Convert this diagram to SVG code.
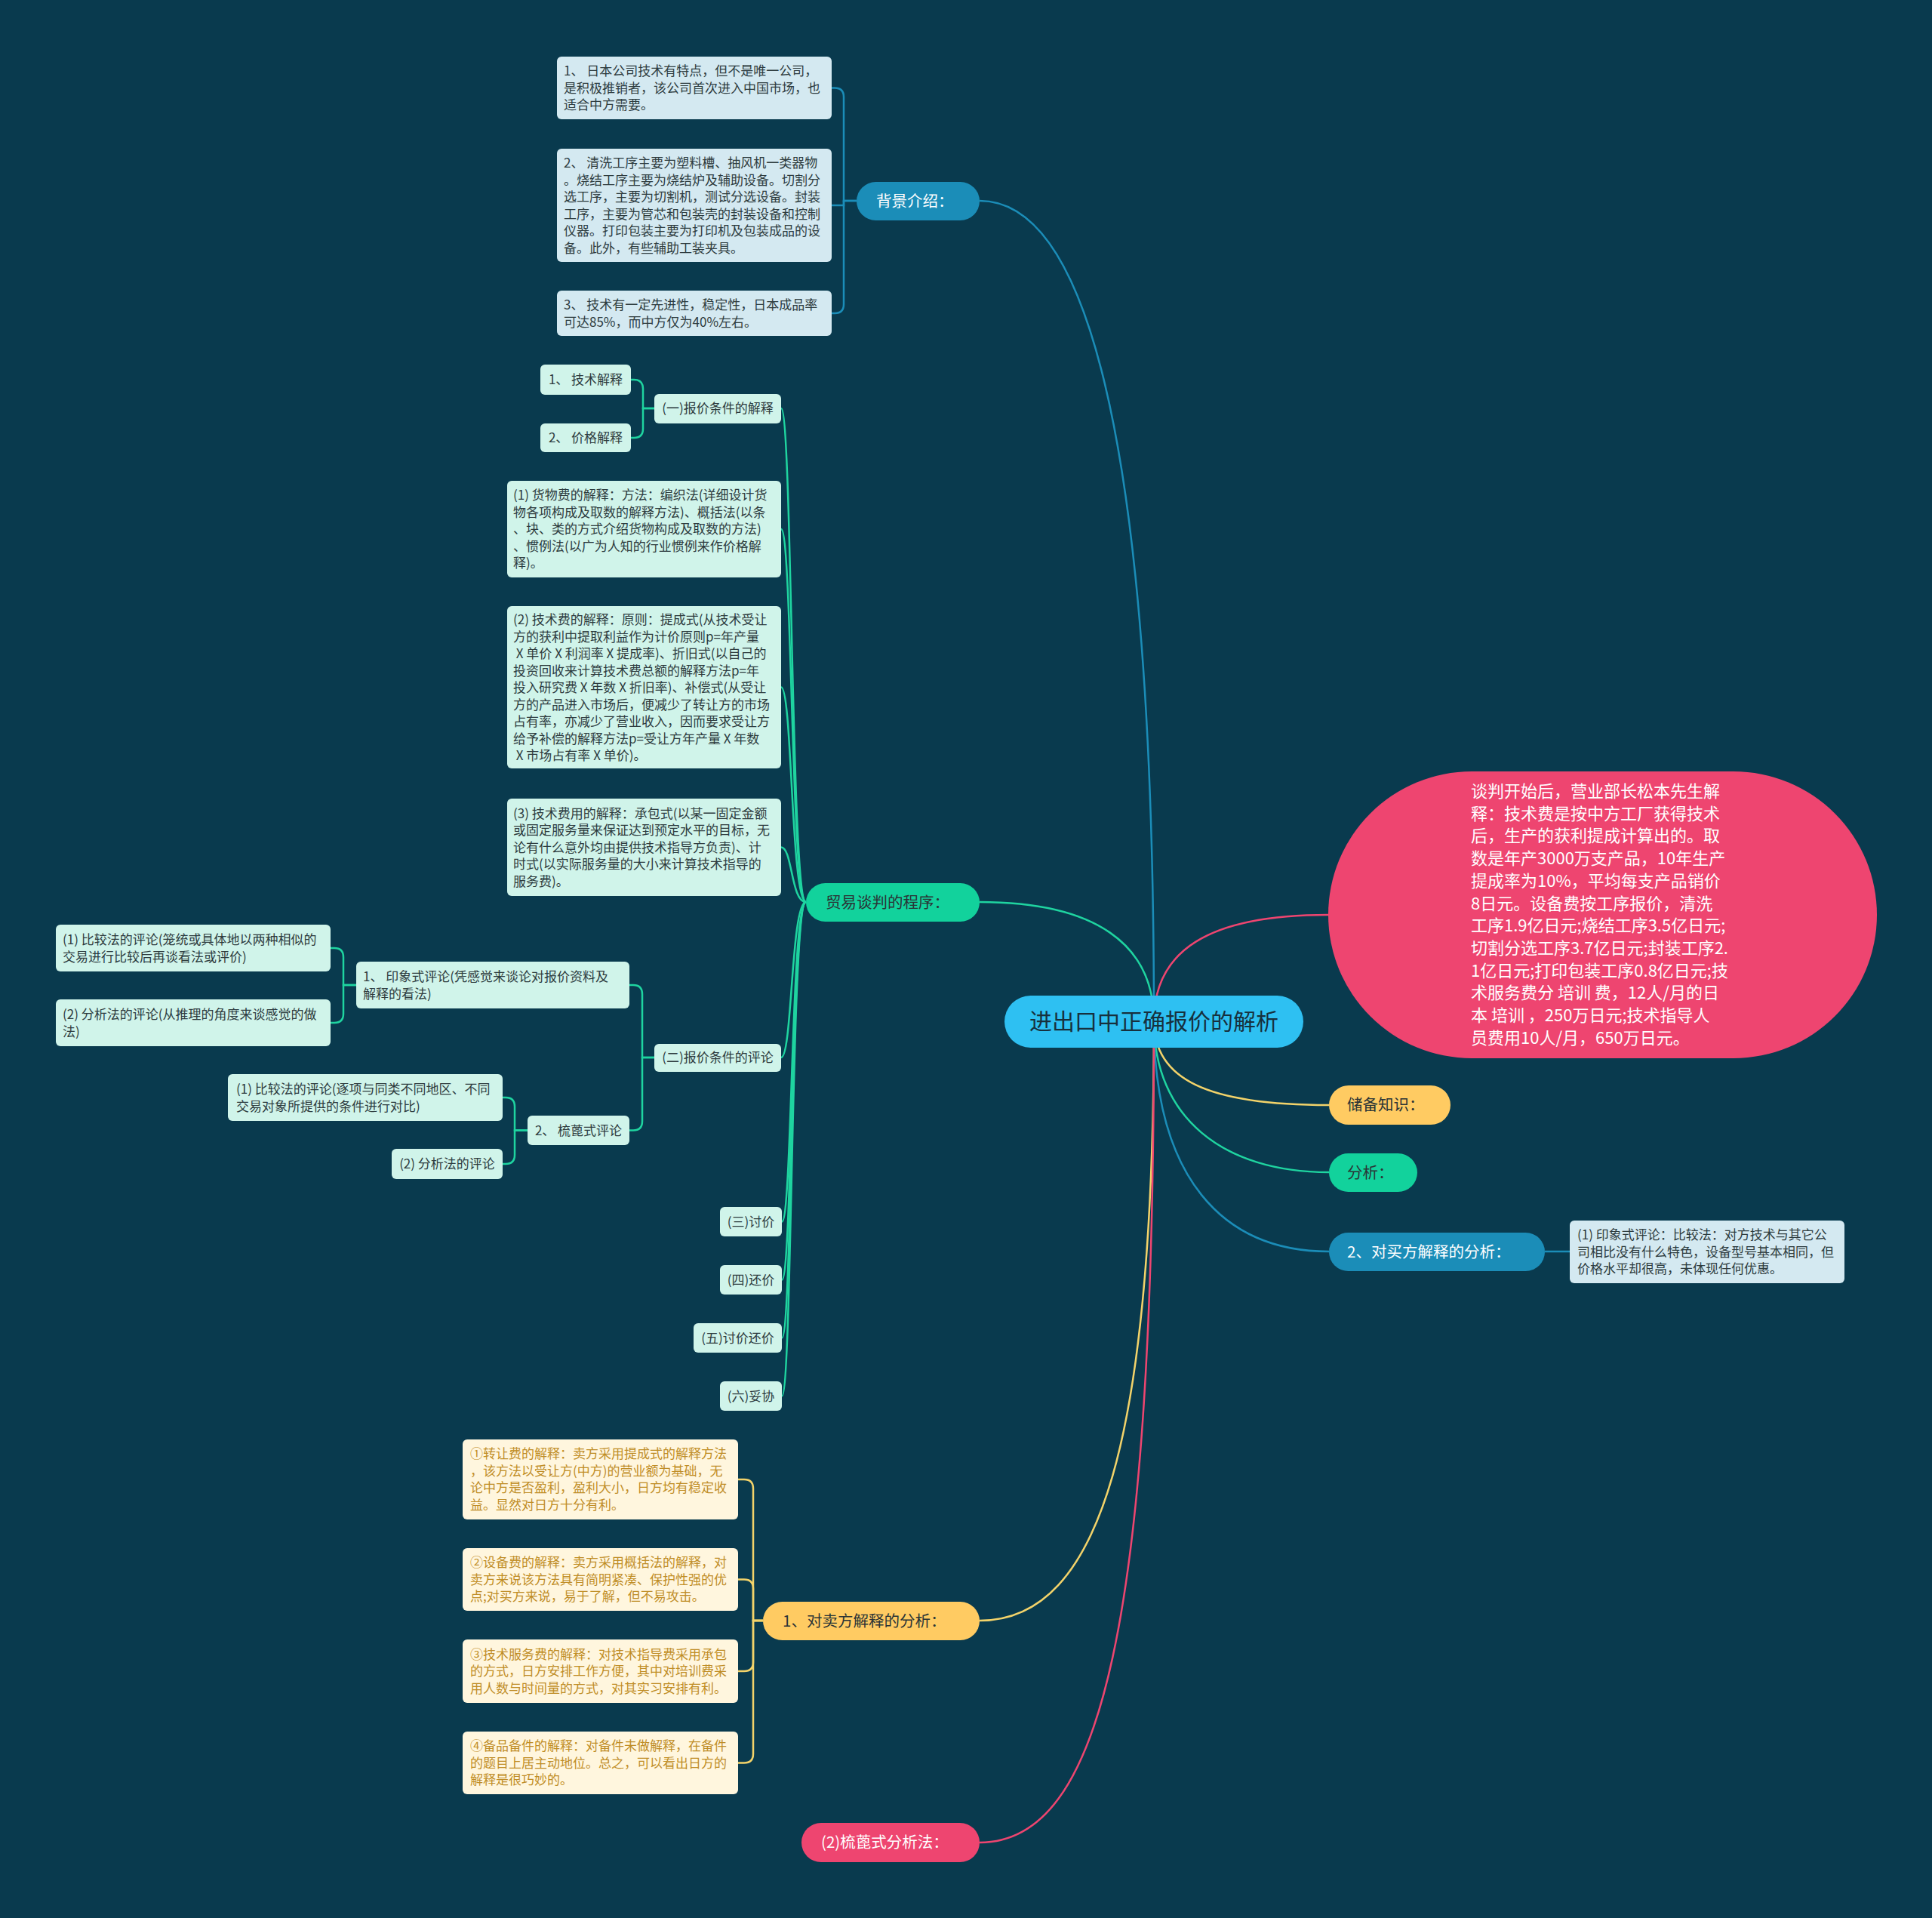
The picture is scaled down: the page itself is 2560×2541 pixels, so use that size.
<svg xmlns="http://www.w3.org/2000/svg" width="2560" height="2541" viewBox="0 0 2560 2541">
<style>
text{font-family:"Noto Sans CJK SC","Noto Sans",sans-serif;}
.t{font-size:17px;fill:#2d3b3e;}
.ty{font-size:17px;fill:#bf8d26;}
.l1{font-size:20.5px;}
.dk{fill:#2a3436;}
.wh{fill:#ffffff;}
.lb{fill:#d4e9f1;}
.lg{fill:#d0f4ea;}
.cr{fill:#fff6de;}
.cb{fill:none;stroke:#1b8db8;stroke-width:2.5;}
.cg{fill:none;stroke:#1fd4a0;stroke-width:2.5;}
.cy{fill:none;stroke:#f3d36a;stroke-width:2.5;}
.cp{fill:none;stroke:#ee4570;stroke-width:2.5;}
</style>
<rect x="0" y="0" width="2560" height="2541" fill="#093a4e"/>
<g id="connectors">
<path class="cb" d="M1298 266 C1420 266 1529 500 1529 1353"/>
<path class="cg" d="M1298 1195 C1450 1195 1529 1250 1529 1353"/>
<path class="cp" d="M1760 1212 C1600 1212 1529 1260 1529 1353"/>
<path class="cy" d="M1529 1353 C1529 1430 1600 1464 1761 1464"/>
<path class="cg" d="M1529 1353 C1529 1480 1620 1553 1761 1553"/>
<path class="cb" d="M1529 1353 C1529 1560 1620 1658 1761 1658"/>
<path class="cy" d="M1529 1353 C1529 1900 1460 2147 1298 2147"/>
<path class="cp" d="M1529 1353 C1529 2150 1460 2441 1298 2441"/>
<path class="cb" d="M1135 266 H1118 V128.5 Q1118 116.5 1106 116.5 H1102"/>
<path class="cb" d="M1118 266 V272 H1102"/>
<path class="cb" d="M1135 266 H1118 V403 Q1118 415 1106 415 H1102"/>
<path class="cg" d="M1068 1195 C1048 1195 1050 541 1035 541"/>
<path class="cg" d="M1068 1195 C1048 1195 1050 701 1035 701"/>
<path class="cg" d="M1068 1195 C1048 1195 1050 910.5 1035 910.5"/>
<path class="cg" d="M1068 1195 C1048 1195 1050 1122.5 1035 1122.5"/>
<path class="cg" d="M1068 1195 C1048 1195 1050 1401 1035 1401"/>
<path class="cg" d="M1068 1195 C1048 1195 1050 1618.5 1036 1618.5"/>
<path class="cg" d="M1068 1195 C1048 1195 1050 1695.5 1036 1695.5"/>
<path class="cg" d="M1068 1195 C1048 1195 1050 1772.5 1036 1772.5"/>
<path class="cg" d="M1068 1195 C1048 1195 1050 1849.5 1036 1849.5"/>
<path class="cg" d="M867 541 H852 V515 Q852 503 840 503 H836"/>
<path class="cg" d="M867 541 H852 V568 Q852 580 840 580 H836"/>
<path class="cg" d="M867 1401 H851 V1317 Q851 1305 839 1305 H834"/>
<path class="cg" d="M867 1401 H851 V1485.5 Q851 1497.5 839 1497.5 H834"/>
<path class="cg" d="M472 1305 H455 V1268 Q455 1256 443 1256 H438"/>
<path class="cg" d="M472 1305 H455 V1343 Q455 1355 443 1355 H438"/>
<path class="cg" d="M699 1497.5 H682 V1466 Q682 1454 670 1454 H666"/>
<path class="cg" d="M699 1497.5 H682 V1530 Q682 1542 670 1542 H666"/>
<path class="cy" d="M1011 2147 H998 V1972 Q998 1960 986 1960 H978"/>
<path class="cy" d="M1011 2147 H998 V2104.5 Q998 2092.5 986 2092.5 H978"/>
<path class="cy" d="M1011 2147 H998 V2202 Q998 2214 986 2214 H978"/>
<path class="cy" d="M1011 2147 H998 V2323.5 Q998 2335.5 986 2335.5 H978"/>
<path class="cb" d="M2047 1658 H2080"/>
</g>

<g id="center">
<rect x="1331" y="1319" width="396" height="69" rx="34.5" fill="#2ec0f2"/>
<text x="1529" y="1364" font-size="30" text-anchor="middle" fill="#17303d">进出口中正确报价的解析</text>
</g>

<g id="bg">
<rect x="1135" y="241" width="163" height="51" rx="25.5" fill="#1b8db8"/>
<text class="l1 wh" x="1161" y="273.5">背景介绍：</text>
</g>
<g id="bg1">
<rect class="lb" x="738" y="75" width="364" height="83" rx="6"/>
<text class="t"><tspan x="747" y="100">1、 日本公司技术有特点，但不是唯一公司，</tspan><tspan x="747" y="122.5">是积极推销者，该公司首次进入中国市场，也</tspan><tspan x="747" y="145">适合中方需要。</tspan></text>
</g>
<g id="bg2">
<rect class="lb" x="738" y="197" width="364" height="150" rx="6"/>
<text class="t"><tspan x="747" y="222">2、 清洗工序主要为塑料槽、抽风机一类器物</tspan><tspan x="747" y="244.5">。烧结工序主要为烧结炉及辅助设备。切割分</tspan><tspan x="747" y="267">选工序，主要为切割机，测试分选设备。封装</tspan><tspan x="747" y="289.5">工序，主要为管芯和包装壳的封装设备和控制</tspan><tspan x="747" y="312">仪器。打印包装主要为打印机及包装成品的设</tspan><tspan x="747" y="334.5">备。此外，有些辅助工装夹具。</tspan></text>
</g>
<g id="bg3">
<rect class="lb" x="738" y="385" width="364" height="60" rx="6"/>
<text class="t"><tspan x="747" y="410">3、 技术有一定先进性，稳定性，日本成品率</tspan><tspan x="747" y="432.5">可达85%，而中方仅为40%左右。</tspan></text>
</g>

<g id="trade">
<rect x="1068" y="1170" width="230" height="51" rx="25.5" fill="#12d29c"/>
<text class="l1 dk" x="1094" y="1202.5">贸易谈判的程序：</text>
</g>
<g id="quote-explain">
<rect class="lg" x="867" y="522" width="168" height="39" rx="6"/>
<text class="t" x="951" y="547" text-anchor="middle">(一)报价条件的解释</text>
</g>
<g id="tech-explain">
<rect class="lg" x="716" y="483" width="120" height="40" rx="6"/>
<text class="t" x="776" y="509" text-anchor="middle">1、 技术解释</text>
</g>
<g id="price-explain">
<rect class="lg" x="716" y="561" width="120" height="38" rx="6"/>
<text class="t" x="776" y="586" text-anchor="middle">2、 价格解释</text>
</g>
<g id="goods-fee">
<rect class="lg" x="672" y="637" width="363" height="128" rx="6"/>
<text class="t"><tspan x="680" y="662">(1) 货物费的解释：方法：编织法(详细设计货</tspan><tspan x="680" y="684.5">物各项构成及取数的解释方法)、概括法(以条</tspan><tspan x="680" y="707">、块、类的方式介绍货物构成及取数的方法)</tspan><tspan x="680" y="729.5">、惯例法(以广为人知的行业惯例来作价格解</tspan><tspan x="680" y="752">释)。</tspan></text>
</g>
<g id="tech-fee">
<rect class="lg" x="672" y="803" width="363" height="215" rx="6"/>
<text class="t"><tspan x="680" y="827">(2) 技术费的解释：原则：提成式(从技术受让</tspan><tspan x="680" y="849.5">方的获利中提取利益作为计价原则p=年产量</tspan><tspan x="680" y="872"> X 单价 X 利润率 X 提成率)、折旧式(以自己的</tspan><tspan x="680" y="894.5">投资回收来计算技术费总额的解释方法p=年</tspan><tspan x="680" y="917">投入研究费 X 年数 X 折旧率)、补偿式(从受让</tspan><tspan x="680" y="939.5">方的产品进入市场后，便减少了转让方的市场</tspan><tspan x="680" y="962">占有率，亦减少了营业收入，因而要求受让方</tspan><tspan x="680" y="984.5">给予补偿的解释方法p=受让方年产量 X 年数</tspan><tspan x="680" y="1007"> X 市场占有率 X 单价)。</tspan></text>
</g>
<g id="tech-service-fee">
<rect class="lg" x="672" y="1058" width="363" height="129" rx="6"/>
<text class="t"><tspan x="680" y="1083.5">(3) 技术费用的解释：承包式(以某一固定金额</tspan><tspan x="680" y="1106">或固定服务量来保证达到预定水平的目标，无</tspan><tspan x="680" y="1128.5">论有什么意外均由提供技术指导方负责)、计</tspan><tspan x="680" y="1151">时式(以实际服务量的大小来计算技术指导的</tspan><tspan x="680" y="1173.5">服务费)。</tspan></text>
</g>
<g id="quote-comment">
<rect class="lg" x="867" y="1383" width="168" height="37" rx="6"/>
<text class="t" x="951" y="1407" text-anchor="middle">(二)报价条件的评论</text>
</g>
<g id="impression">
<rect class="lg" x="472" y="1274" width="362" height="62" rx="6"/>
<text class="t"><tspan x="481" y="1300">1、 印象式评论(凭感觉来谈论对报价资料及</tspan><tspan x="481" y="1322.5">解释的看法)</tspan></text>
</g>
<g id="imp-compare">
<rect class="lg" x="74" y="1225" width="364" height="62" rx="6"/>
<text class="t"><tspan x="83" y="1251">(1) 比较法的评论(笼统或具体地以两种相似的</tspan><tspan x="83" y="1273.5">交易进行比较后再谈看法或评价)</tspan></text>
</g>
<g id="imp-analysis">
<rect class="lg" x="74" y="1324" width="364" height="62" rx="6"/>
<text class="t"><tspan x="83" y="1350">(2) 分析法的评论(从推理的角度来谈感觉的做</tspan><tspan x="83" y="1372.5">法)</tspan></text>
</g>
<g id="comb">
<rect class="lg" x="699" y="1478" width="135" height="39" rx="6"/>
<text class="t" x="766.5" y="1503.5" text-anchor="middle">2、 梳蓖式评论</text>
</g>
<g id="comb-compare">
<rect class="lg" x="302" y="1423" width="364" height="62" rx="6"/>
<text class="t"><tspan x="313" y="1449">(1) 比较法的评论(逐项与同类不同地区、不同</tspan><tspan x="313" y="1471.5">交易对象所提供的条件进行对比)</tspan></text>
</g>
<g id="comb-analysis">
<rect class="lg" x="519" y="1522" width="147" height="40" rx="6"/>
<text class="t" x="592.5" y="1548" text-anchor="middle">(2) 分析法的评论</text>
</g>
<g id="bargain">
<rect class="lg" x="954" y="1599" width="82" height="39" rx="6"/>
<text class="t" x="995" y="1624.5" text-anchor="middle">(三)讨价</text>
</g>
<g id="counter">
<rect class="lg" x="954" y="1676" width="82" height="39" rx="6"/>
<text class="t" x="995" y="1701.5" text-anchor="middle">(四)还价</text>
</g>
<g id="bargain-counter">
<rect class="lg" x="919" y="1753" width="117" height="39" rx="6"/>
<text class="t" x="977.5" y="1778.5" text-anchor="middle">(五)讨价还价</text>
</g>
<g id="compromise">
<rect class="lg" x="954" y="1830" width="82" height="39" rx="6"/>
<text class="t" x="995" y="1855.5" text-anchor="middle">(六)妥协</text>
</g>

<g id="red-note">
<rect x="1760" y="1022" width="727" height="380" rx="190" fill="#ee4570"/>
<text font-size="22" fill="#ffffff"><tspan x="1949" y="1056">谈判开始后，营业部长松本先生解</tspan><tspan x="1949" y="1085.7">释：技术费是按中方工厂获得技术</tspan><tspan x="1949" y="1115.4">后，生产的获利提成计算出的。取</tspan><tspan x="1949" y="1145.1">数是年产3000万支产品，10年生产</tspan><tspan x="1949" y="1174.8">提成率为10%，平均每支产品销价</tspan><tspan x="1949" y="1204.5">8日元。设备费按工序报价，清洗</tspan><tspan x="1949" y="1234.2">工序1.9亿日元;烧结工序3.5亿日元;</tspan><tspan x="1949" y="1263.9">切割分选工序3.7亿日元;封装工序2.</tspan><tspan x="1949" y="1293.6">1亿日元;打印包装工序0.8亿日元;技</tspan><tspan x="1949" y="1323.3">术服务费分 培训 费，12人/月的日</tspan><tspan x="1949" y="1353">本 培训 ，250万日元;技术指导人</tspan><tspan x="1949" y="1382.7">员费用10人/月，650万日元。</tspan></text>
</g>
<g id="reserve">
<rect x="1761" y="1438" width="161" height="52" rx="26" fill="#ffcb62"/>
<text class="l1 dk" x="1785" y="1471">储备知识：</text>
</g>
<g id="analysis">
<rect x="1761" y="1528" width="117" height="51" rx="25.5" fill="#12d29c"/>
<text class="l1 dk" x="1785" y="1560.5">分析：</text>
</g>
<g id="buyer">
<rect x="1761" y="1633" width="286" height="51" rx="25.5" fill="#1b8db8"/>
<text class="l1 wh" x="1785" y="1665.5">2、对买方解释的分析：</text>
</g>
<g id="buyer-1">
<rect class="lb" x="2080" y="1617" width="364" height="83" rx="6"/>
<text class="t"><tspan x="2090" y="1642">(1) 印象式评论：比较法：对方技术与其它公</tspan><tspan x="2090" y="1664.5">司相比没有什么特色，设备型号基本相同，但</tspan><tspan x="2090" y="1687">价格水平却很高，未体现任何优惠。</tspan></text>
</g>

<g id="seller">
<rect x="1011" y="2122" width="287" height="51" rx="25.5" fill="#ffcb62"/>
<text class="l1 dk" x="1037" y="2154.5">1、对卖方解释的分析：</text>
</g>
<g id="seller-1">
<rect class="cr" x="613" y="1907" width="365" height="106" rx="6"/>
<text class="ty"><tspan x="623" y="1932">①转让费的解释：卖方采用提成式的解释方法</tspan><tspan x="623" y="1954.5">，该方法以受让方(中方)的营业额为基础，无</tspan><tspan x="623" y="1977">论中方是否盈利，盈利大小，日方均有稳定收</tspan><tspan x="623" y="1999.5">益。显然对日方十分有利。</tspan></text>
</g>
<g id="seller-2">
<rect class="cr" x="613" y="2051" width="365" height="83" rx="6"/>
<text class="ty"><tspan x="623" y="2076">②设备费的解释：卖方采用概括法的解释，对</tspan><tspan x="623" y="2098.5">卖方来说该方法具有简明紧凑、保护性强的优</tspan><tspan x="623" y="2121">点;对买方来说，易于了解，但不易攻击。</tspan></text>
</g>
<g id="seller-3">
<rect class="cr" x="613" y="2172" width="365" height="84" rx="6"/>
<text class="ty"><tspan x="623" y="2197.5">③技术服务费的解释：对技术指导费采用承包</tspan><tspan x="623" y="2220">的方式，日方安排工作方便，其中对培训费采</tspan><tspan x="623" y="2242.5">用人数与时间量的方式，对其实习安排有利。</tspan></text>
</g>
<g id="seller-4">
<rect class="cr" x="613" y="2294" width="365" height="83" rx="6"/>
<text class="ty"><tspan x="623" y="2319">④备品备件的解释：对备件未做解释，在备件</tspan><tspan x="623" y="2341.5">的题目上居主动地位。总之，可以看出日方的</tspan><tspan x="623" y="2364">解释是很巧妙的。</tspan></text>
</g>
<g id="comb-method">
<rect x="1062" y="2415" width="236" height="52" rx="26" fill="#ee4570"/>
<text class="l1 wh" x="1088" y="2448">(2)梳蓖式分析法：</text>
</g>
</svg>
